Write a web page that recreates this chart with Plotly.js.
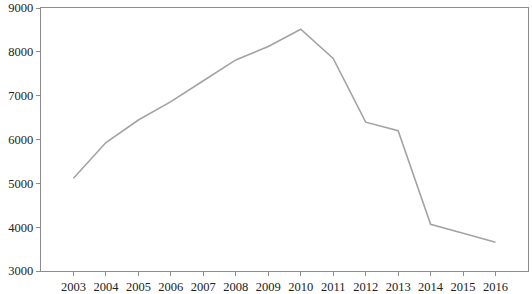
<!DOCTYPE html>
<html>
<head>
<meta charset="utf-8">
<script src="https://cdn.plot.ly/plotly-3.0.1.min.js"></script>
<style>html,body{margin:0;padding:0;background:#fff;}#chart{width:532px;height:294px;}</style>
</head>
<body>
<div id="chart"></div>
<script>
var years = [2003, 2004, 2005, 2006, 2007, 2008, 2009, 2010, 2011, 2012, 2013, 2014, 2015, 2016];
var values = [5115, 5930, 6445, 6865, 7340, 7815, 8120, 8515, 7850, 6395, 6200, 4065, 3860, 3655];
var yTicks = [3000, 4000, 5000, 6000, 7000, 8000, 9000];

var trace = {
  x: years, y: values, type: 'scatter', mode: 'lines',
  line: {color: '#a3a3a3', width: 1.6}, hoverinfo: 'none'
};
var font = {family: '"Liberation Serif", "Times New Roman", serif', size: 12.5, color: '#222'};
var layout = {
  width: 532, height: 294,
  margin: {l: 41, r: 4, t: 8, b: 23},
  paper_bgcolor: '#fff', plot_bgcolor: '#fff',
  showlegend: false,
  font: font,
  xaxis: {
    range: [2002, 2017], tickvals: years, ticktext: years.map(String),
    showgrid: false, zeroline: false, showline: true, mirror: true,
    linecolor: '#8c8c8c', linewidth: 1.2,
    ticks: 'outside', ticklen: 4, tickcolor: '#8c8c8c', tickwidth: 1,
    ticklabelstandoff: 0,
    tickfont: font
  },
  yaxis: {
    range: [3000, 9000], tickvals: yTicks, ticktext: yTicks.map(String),
    showgrid: false, zeroline: false, showline: true, mirror: true,
    linecolor: '#8c8c8c', linewidth: 1.2,
    ticks: 'outside', ticklen: 4, tickcolor: '#8c8c8c', tickwidth: 1,
    tickfont: font
  }
};
Plotly.newPlot('chart', [trace], layout, {staticPlot: true, displayModeBar: false});
</script>
</body>
</html>
